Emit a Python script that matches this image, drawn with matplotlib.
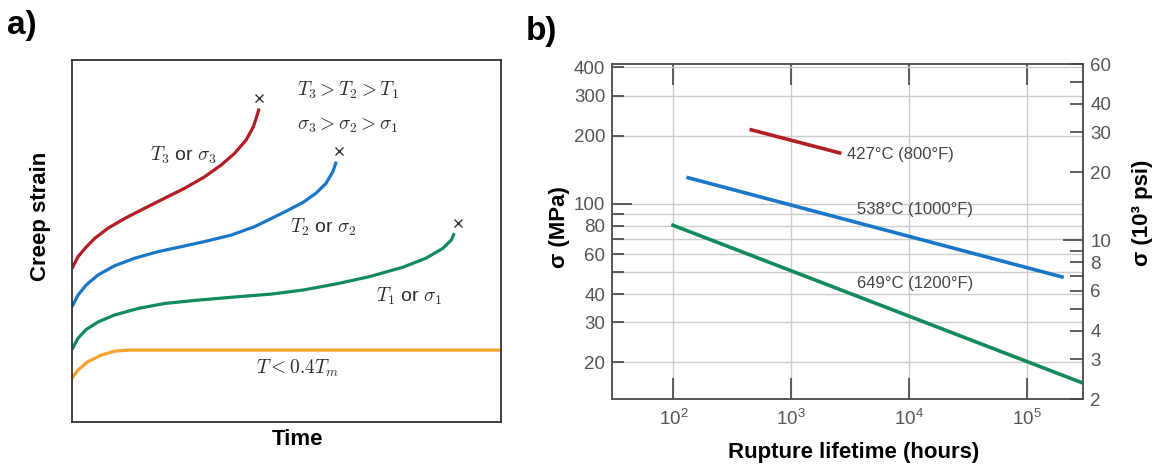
import matplotlib
matplotlib.use("Agg")
import matplotlib.pyplot as plt
from matplotlib.ticker import FixedLocator, FixedFormatter, NullFormatter, LogFormatterSciNotation

plt.rcParams['mathtext.fontset'] = 'cm'

t_red = [0.0, 0.014, 0.030, 0.053, 0.084, 0.123, 0.169, 0.216, 0.262, 0.309, 0.348, 0.379, 0.406, 0.423, 0.433, 0.436]
e_red = [0.424, 0.456, 0.479, 0.507, 0.535, 0.562, 0.590, 0.618, 0.645, 0.677, 0.710, 0.742, 0.779, 0.816, 0.853, 0.866]
t_blue = [0.0, 0.014, 0.033, 0.061, 0.099, 0.146, 0.200, 0.255, 0.309, 0.371, 0.425, 0.465, 0.499, 0.538, 0.569, 0.592, 0.608, 0.616]
e_blue = [0.318, 0.350, 0.378, 0.406, 0.431, 0.452, 0.470, 0.484, 0.498, 0.516, 0.539, 0.562, 0.582, 0.606, 0.632, 0.659, 0.691, 0.719]
t_green = [0.0, 0.014, 0.033, 0.061, 0.099, 0.154, 0.216, 0.293, 0.371, 0.466, 0.538, 0.616, 0.693, 0.771, 0.825, 0.864, 0.884, 0.891]
e_green = [0.200, 0.231, 0.255, 0.276, 0.295, 0.313, 0.327, 0.336, 0.344, 0.353, 0.364, 0.381, 0.401, 0.427, 0.452, 0.479, 0.502, 0.521]
t_orange = [0.0, 0.014, 0.037, 0.068, 0.099, 0.130, 1.0]
e_orange = [0.120, 0.143, 0.166, 0.184, 0.195, 0.198, 0.198]
# rupture points (x marks)
t_rupt = [0.436, 0.623, 0.899]
e_rupt = [0.894, 0.749, 0.550]

# panel b : stress vs rupture lifetime
hours_427 = [443, 2670]
mpa_427 = [213, 167]
hours_538 = [129, 2.06e5]
mpa_538 = [131, 47.4]
hours_649 = [96, 3.2e5]
mpa_649 = [81, 16.0]

mpa_labeled = [20, 30, 40, 60, 80, 100, 200, 300, 400]
mpa_minor = [50, 70, 90]
ksi_labeled = [2, 3, 4, 6, 8, 10, 20, 30, 40, 60]
ksi_minor = [5, 7, 9, 50]
hour_ticks = [1e2, 1e3, 1e4, 1e5]
MPA_PER_KSI = 6.895

RED = '#b31e24'
BLUE = '#1a76c6'
GREEN = '#138a5b'
ORANGE = '#f7a12f'
TXT = '#2e2e2e'
sans = ['Liberation Sans', 'DejaVu Sans']

fig = plt.figure(figsize=(11.56, 4.68), dpi=100)

# ---------------- panel a
ax = fig.add_axes([0.0623, 0.0989, 0.3711, 0.7729])
for t, e, c in [(t_red, e_red, RED), (t_blue, e_blue, BLUE), (t_green, e_green, GREEN), (t_orange, e_orange, ORANGE)]:
    ax.plot(t, e, color=c, lw=2.3, solid_capstyle='butt', solid_joinstyle='round')
ax.plot(t_rupt, e_rupt, 'x', color='#333333', ms=6, mew=1.0)
ax.set_xlim(0, 1)
ax.set_ylim(0, 1)
ax.set_xticks([])
ax.set_yticks([])
for s in ax.spines.values():
    s.set_color('#333333')
    s.set_linewidth(1.3)

ax.text(0.643, 0.917, r'$T_3 > T_2 > T_1$', transform=ax.transAxes, ha='center', va='center', fontsize=14, color=TXT)
ax.text(0.643, 0.820, r'$\sigma_3 > \sigma_2 > \sigma_1$', transform=ax.transAxes, ha='center', va='center', fontsize=14, color=TXT)
ax.text(0.259, 0.737, r'$T_3$ or $\sigma_3$', transform=ax.transAxes, ha='center', va='center', fontsize=14, color=TXT, family=sans)
ax.text(0.585, 0.536, r'$T_2$ or $\sigma_2$', transform=ax.transAxes, ha='center', va='center', fontsize=14, color=TXT, family=sans)
ax.text(0.785, 0.347, r'$T_1$ or $\sigma_1$', transform=ax.transAxes, ha='center', va='center', fontsize=14, color=TXT, family=sans)
ax.text(0.525, 0.147, r'$T < 0.4T_m$', transform=ax.transAxes, ha='center', va='center', fontsize=14, color=TXT)

fig.text(0.035, 0.538, 'Creep strain', rotation=90, ha='center', va='center', fontsize=16, fontweight='bold', family=sans)
fig.text(0.257, 0.060, 'Time', ha='center', va='center', fontsize=16, fontweight='bold', family=sans)
fig.text(0.006, 0.978, 'a)', ha='left', va='top', fontsize=24, fontweight='bold', family=sans)

# ---------------- panel b
bx = fig.add_axes([0.5297, 0.1474, 0.4074, 0.7158])
bx.set_xscale('log')
bx.set_yscale('log')
bx.plot(hours_427, mpa_427, color=RED, lw=2.6, solid_capstyle='butt')
bx.plot(hours_538, mpa_538, color=BLUE, lw=2.6, solid_capstyle='butt')
bx.plot(hours_649, mpa_649, color=GREEN, lw=2.6, solid_capstyle='butt')
bx.set_xlim(30.3, 3.02e5)
bx.set_ylim(2 * MPA_PER_KSI, 60 * MPA_PER_KSI)

bx.xaxis.set_major_locator(FixedLocator(hour_ticks))
bx.xaxis.set_major_formatter(LogFormatterSciNotation())
bx.xaxis.set_minor_locator(FixedLocator([]))
bx.yaxis.set_major_locator(FixedLocator(mpa_labeled))
bx.yaxis.set_major_formatter(FixedFormatter([str(v) for v in mpa_labeled]))
bx.yaxis.set_minor_locator(FixedLocator(mpa_minor))
bx.yaxis.set_minor_formatter(NullFormatter())

bx.grid(True, axis='x', which='major', color='#cccccc', lw=1.0)
bx.grid(True, axis='y', which='both', color='#cccccc', lw=1.0)
bx.set_axisbelow(True)

bx.tick_params(axis='x', which='major', direction='in', top=True, bottom=True, length=15, width=1.2,
               color='#444444', labelcolor='#555555', labelsize=13.5, pad=7)
bx.tick_params(axis='y', which='both', direction='in', left=True, right=False, length=8.6, width=1.2,
               color='#444444', labelcolor='#555555', labelsize=13.5, pad=5)
for lab in bx.get_xticklabels() + bx.get_yticklabels():
    lab.set_family(sans)
for tk in bx.yaxis.get_major_ticks():
    if tk.get_loc() == 100:
        tk.tick1line.set_markersize(14.5)

for s in bx.spines.values():
    s.set_color('#555555')
    s.set_linewidth(1.4)

bx2 = bx.twinx()
bx2.set_yscale('log')
bx2.set_ylim(2, 60)
bx2.yaxis.set_major_locator(FixedLocator(ksi_labeled))
bx2.yaxis.set_major_formatter(FixedFormatter([str(v) for v in ksi_labeled]))
bx2.yaxis.set_minor_locator(FixedLocator(ksi_minor))
bx2.yaxis.set_minor_formatter(NullFormatter())
bx2.tick_params(axis='y', which='both', direction='in', right=True, left=False, length=9.4, width=1.2,
                color='#444444', labelcolor='#555555', labelsize=13.5, pad=5)
for lab in bx2.get_yticklabels():
    lab.set_family(sans)
for tk in bx2.yaxis.get_major_ticks():
    if tk.get_loc() == 10:
        tk.tick2line.set_markersize(14.5)
for s in bx2.spines.values():
    s.set_visible(False)

bx.text(2965, 164.7, '427°C (800°F)', ha='left', va='center', fontsize=12, color='#444444', family=sans)
bx.text(3606, 94.8, '538°C (1000°F)', ha='left', va='center', fontsize=12, color='#444444', family=sans)
bx.text(3606, 44.6, '649°C (1200°F)', ha='left', va='center', fontsize=12, color='#444444', family=sans)

fig.text(0.484, 0.515, 'σ (MPa)', rotation=90, ha='center', va='center', fontsize=16, fontweight='bold', family=sans)
fig.text(0.988, 0.545, 'σ (10³ psi)', rotation=90, ha='center', va='center', fontsize=16, fontweight='bold', family=sans)
fig.text(0.738, 0.034, 'Rupture lifetime (hours)', ha='center', va='center', fontsize=16, fontweight='bold', family=sans)
fig.text(0.455, 0.966, 'b)', ha='left', va='top', fontsize=24, fontweight='bold', family=sans)

fig.savefig('out.png', dpi=100)
